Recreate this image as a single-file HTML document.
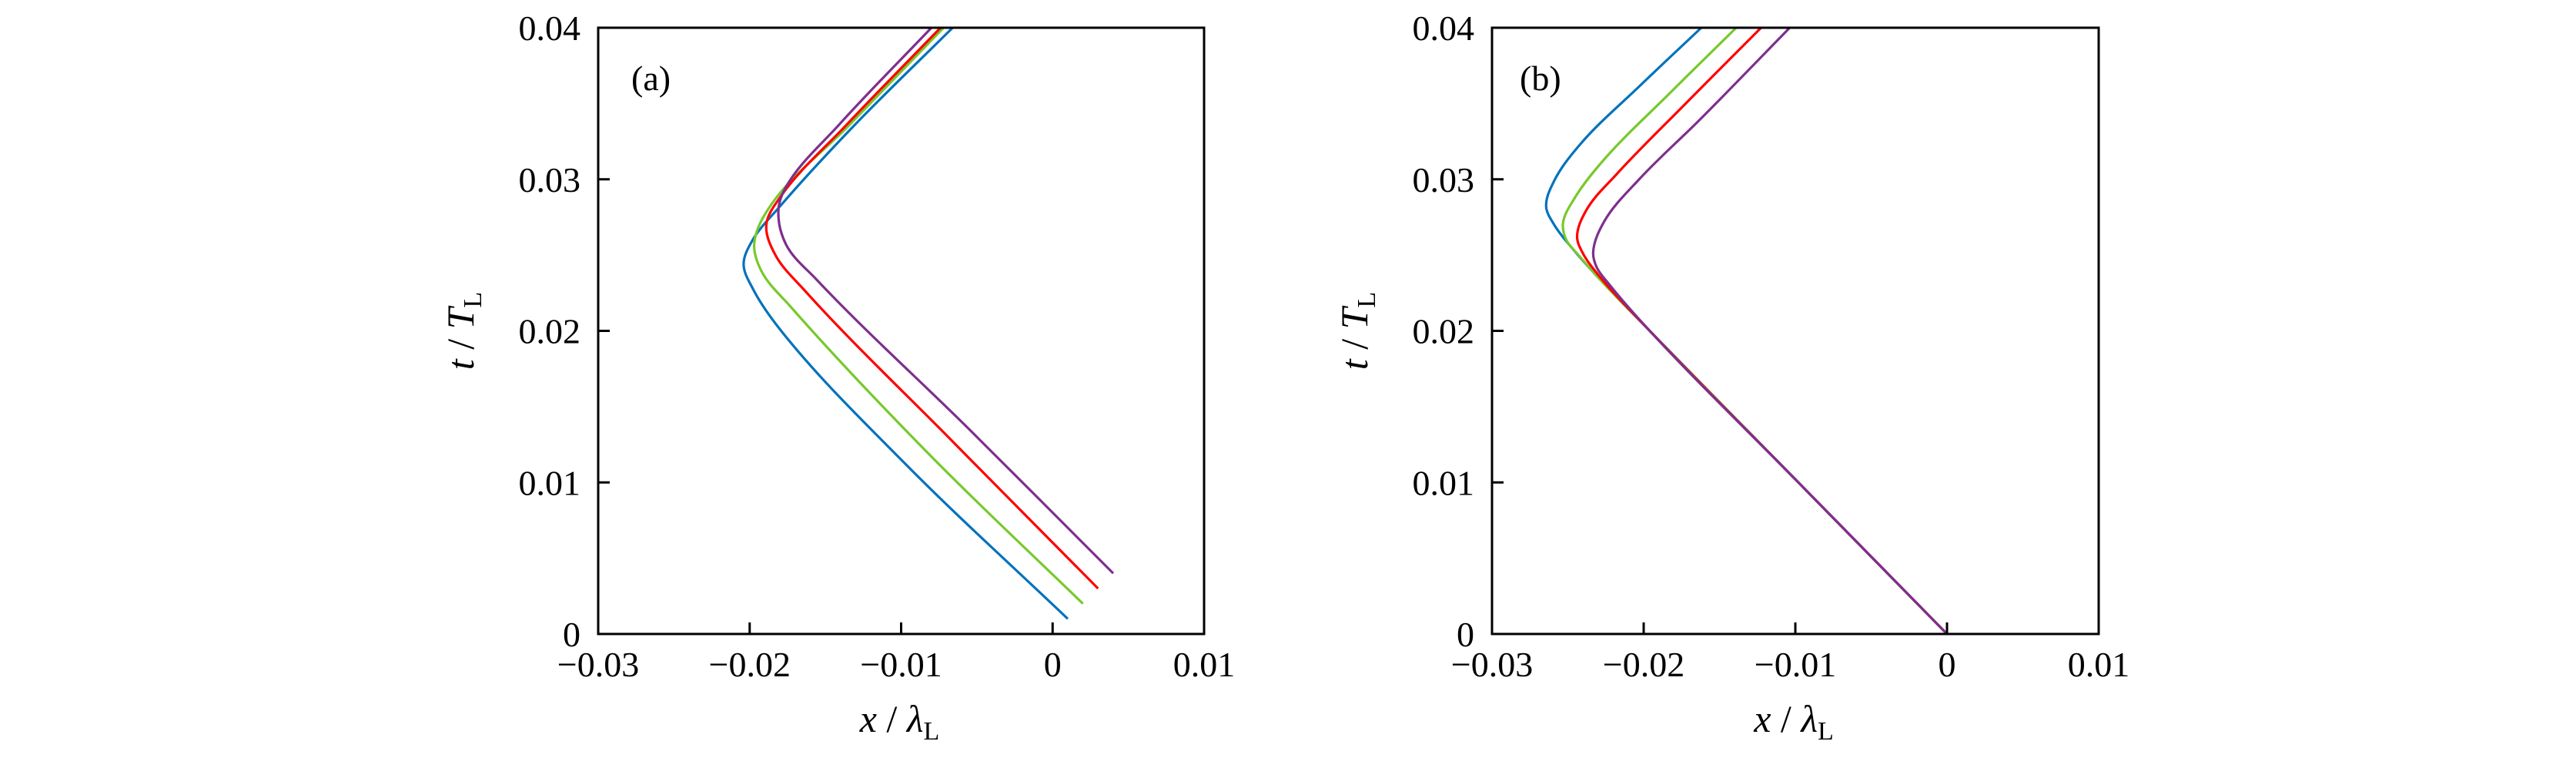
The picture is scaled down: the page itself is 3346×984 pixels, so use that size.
<!DOCTYPE html>
<html><head><meta charset="utf-8">
<style>
html,body{margin:0;padding:0;background:#fff;}
svg{display:block;}
text{font-family:"Liberation Serif",serif;fill:#000;}
</style></head>
<body>
<svg id="chart" width="3346" height="984" viewBox="0 0 3346 984" xmlns="http://www.w3.org/2000/svg"></svg>
<script>
const xTicks = [-0.03, -0.02, -0.01, 0, 0.01];
const xTickLabels = ["\u22120.03", "\u22120.02", "\u22120.01", "0", "0.01"];
const yTicks = [0, 0.01, 0.02, 0.03, 0.04];
const yTickLabels = ["0", "0.01", "0.02", "0.03", "0.04"];
const seriesNames = ["blue", "green", "red", "purple"];
const seriesColors = ["#0072BD", "#77C92B", "#FF0000", "#7E2F8E"];
// panel (a): [x, t] pairs
const aBlue = [[0.001,0.001],[-0.0097,0.0112],[-0.0180,0.0201],[-0.0198,0.0228],[-0.0204,0.0244],[-0.0198,0.0260],[-0.0181,0.0281],[-0.01305,0.0336],[-0.0066,0.04]];
const aGreen = [[0.002,0.002],[-0.0080,0.0117],[-0.0173,0.0216],[-0.0192,0.0239],[-0.0197,0.0257],[-0.0188,0.0280],[-0.0134,0.0336],[-0.0072,0.04]];
const aRed = [[0.003,0.003],[-0.0065,0.0126],[-0.0164,0.0227],[-0.0183,0.0250],[-0.0189,0.0270],[-0.0180,0.0288],[-0.0136,0.0336],[-0.0074,0.04]];
const aPurple = [[0.004,0.004],[-0.0055,0.0135],[-0.0156,0.0234],[-0.0176,0.0257],[-0.0181,0.0280],[-0.0176,0.0295],[-0.0141,0.0336],[-0.0080,0.04]];
// panel (b): [x, t] pairs
const bBlue = [[0,0],[-0.0099,0.0101],[-0.0196,0.0200],[-0.0226,0.0231],[-0.0245,0.0252],[-0.0259,0.0270],[-0.02643,0.0282],[-0.0259,0.0299],[-0.02415,0.03235],[-0.02025,0.03617],[-0.0162,0.04]];
const bGreen = [[0,0],[-0.0099,0.0101],[-0.0196,0.0200],[-0.0228,0.0233],[-0.0243,0.0250],[-0.0251,0.0260],[-0.02532,0.0271],[-0.02454,0.02878],[-0.02259,0.03133],[-0.0183,0.03566],[-0.0139,0.04]];
const bRed = [[0,0],[-0.0099,0.0101],[-0.0196,0.0200],[-0.0230,0.0237],[-0.0240,0.0251],[-0.02439,0.0262],[-0.02376,0.0280],[-0.02181,0.03031],[-0.01733,0.0349],[-0.01226,0.04]];
const bPurple = [[0,0],[-0.0099,0.0101],[-0.0196,0.0200],[-0.0223,0.0231],[-0.0231,0.0242],[-0.02333,0.0252],[-0.02259,0.02724],[-0.02025,0.03005],[-0.01635,0.03388],[-0.01037,0.04]];

const NS = "http://www.w3.org/2000/svg";
const svg = document.getElementById("chart");
function mk(tag, attrs, parent) {
  const e = document.createElementNS(NS, tag);
  for (const k in attrs) e.setAttribute(k, attrs[k]);
  (parent || svg).appendChild(e);
  return e;
}
function unit(a, b) {
  const dx = b[0] - a[0], dy = b[1] - a[1];
  const l = Math.hypot(dx, dy) || 1;
  return [dx / l, dy / l];
}
function smoothPath(pts) {
  const n = pts.length;
  const dirs = pts.map((p, i) => {
    if (i === 0) return unit(pts[0], pts[1]);
    if (i === n - 1) return unit(pts[n - 2], pts[n - 1]);
    const u1 = unit(pts[i - 1], pts[i]), u2 = unit(pts[i], pts[i + 1]);
    const s = [u1[0] + u2[0], u1[1] + u2[1]];
    const l = Math.hypot(s[0], s[1]) || 1;
    return [s[0] / l, s[1] / l];
  });
  let d = "M" + pts[0][0].toFixed(2) + "," + pts[0][1].toFixed(2);
  for (let i = 0; i < n - 1; i++) {
    const p1 = pts[i], p2 = pts[i + 1];
    const L = Math.hypot(p2[0] - p1[0], p2[1] - p1[1]) / 3;
    const c1 = [p1[0] + dirs[i][0] * L, p1[1] + dirs[i][1] * L];
    const c2 = [p2[0] - dirs[i + 1][0] * L, p2[1] - dirs[i + 1][1] * L];
    d += " C" + c1[0].toFixed(2) + "," + c1[1].toFixed(2) + " " + c2[0].toFixed(2) + "," + c2[1].toFixed(2) + " " + p2[0].toFixed(2) + "," + p2[1].toFixed(2);
  }
  return d;
}
function panel(left, right, top, bottom, tag, series, labelX) {
  const xMin = -0.03, xMax = 0.01, yMin = 0, yMax = 0.04;
  const sx = v => left + (v - xMin) / (xMax - xMin) * (right - left);
  const sy = v => bottom - (v - yMin) / (yMax - yMin) * (bottom - top);
  const g = mk("g", {});
  
  
  series.forEach((s, i) => {
    const pts = s.map(p => [sx(p[0]), sy(p[1])]);
    const path = mk("path", {d: smoothPath(pts), fill: "none", stroke: seriesColors[i], "stroke-width": 3.2, "stroke-linejoin": "round"}, g);
    
    
  });
  xTicks.forEach((v, i) => {
    const x = sx(v);
    const tk = mk("line", {x1: x, x2: x, y1: bottom, y2: bottom - 15, stroke: "#000", "stroke-width": 3}, g);
    
    
    const t = mk("text", {x: x, y: 878, "font-size": 46, "text-anchor": "middle"}, g);
    t.textContent = xTickLabels[i];
    
    
  });
  yTicks.forEach((v, i) => {
    const y = sy(v);
    const tk = mk("line", {x1: left, x2: left + 15, y1: y, y2: y, stroke: "#000", "stroke-width": 3}, g);
    
    
    const t = mk("text", {x: left - 23, y: y + 16, "font-size": 46, "text-anchor": "end"}, g);
    t.textContent = yTickLabels[i];
    
    
  });
  const fr = mk("rect", {x: left, y: top, width: right - left, height: bottom - top, fill: "none", stroke: "#000", "stroke-width": 3}, g);
  
  
  const pl = mk("text", {x: labelX, y: 117, "font-size": 46}, g);
  pl.textContent = "(" + tag + ")";
  
  
  const xl = mk("text", {x: (left + right) / 2 - 2, y: 950, "font-size": 50, "text-anchor": "middle"}, g);
  xl.innerHTML = '<tspan font-style="italic">x</tspan> / <tspan font-style="italic">λ</tspan><tspan font-size="34" dy="10">L</tspan>';
  
  
  const yl = mk("text", {x: 0, y: 0, "font-size": 50, "text-anchor": "middle", transform: "translate(" + (left - 162) + "," + ((top + bottom) / 2) + ") rotate(-90)"}, g);
  yl.innerHTML = '<tspan font-style="italic">t</tspan> / <tspan font-style="italic">T</tspan><tspan font-size="34" dy="10">L</tspan>';
  
  
}
panel(777, 1564, 36, 823, "a", [aBlue, aGreen, aRed, aPurple], 820);
panel(1938, 2726, 36, 823, "b", [bBlue, bGreen, bRed, bPurple], 1974);
</script>
</body></html>
